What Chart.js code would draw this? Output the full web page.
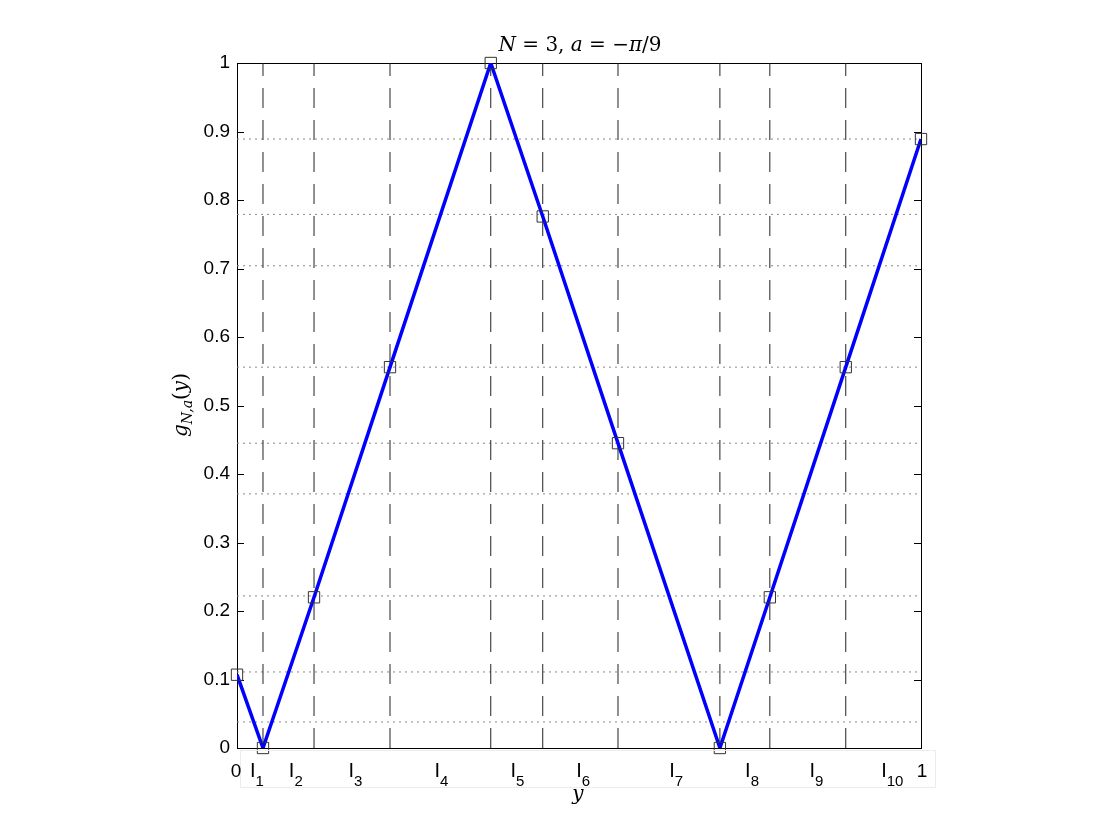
<!DOCTYPE html>
<html>
<head>
<meta charset="utf-8">
<script src="https://cdn.jsdelivr.net/npm/chart.js@4.4.1/dist/chart.umd.min.js"></script>
<style>
  body { margin: 0; background: #fff; }
  canvas { display: block; }
</style>
</head>
<body>
<canvas id="chart" width="1120" height="840"></canvas>
<script>
// values
const yPos = [0, 0.038, 0.1126, 0.2237, 0.371, 0.447, 0.557, 0.706, 0.779, 0.890, 1];
const gVals = [0.107, 0, 0.22, 0.556, 1, 0.776, 0.445, 0, 0.22, 0.556, 0.889];
const borders = [0.038, 0.1126, 0.2237, 0.371, 0.447, 0.557, 0.706, 0.779, 0.890];
const levels = [0.038, 0.111, 0.222, 0.371, 0.445, 0.556, 0.704, 0.779, 0.889];
const intervalNames = ['1', '2', '3', '4', '5', '6', '7', '8', '9', '10'];
// where the interval labels sit on the x axis
const intervalTicks = [0.029, 0.086, 0.173, 0.299, 0.410, 0.506, 0.642, 0.753, 0.847, 0.958];
const yTicks = [0, 0.1, 0.2, 0.3, 0.4, 0.5, 0.6, 0.7, 0.8, 0.9, 1];

const sansFont = '"Liberation Sans", Arial, sans-serif';
const serifFont = '"DejaVu Serif", "Liberation Serif", serif';

const dashedSets = borders.map(b => ({
    data: [{x: b, y: 0}, {x: b, y: 1}],
    showLine: true,
    borderColor: '#222',
    borderWidth: 1,
    borderDash: [20, 12],
    pointRadius: 0,
    order: 2
}));
const dottedSets = levels.map(l => ({
    data: [{x: 0, y: l}, {x: 1, y: l}],
    showLine: true,
    borderColor: '#888',
    borderWidth: 1,
    borderDash: [2, 4],
    pointRadius: 0,
    order: 3
}));

const points = yPos.map((x, i) => ({x: x, y: gVals[i]}));

// draw text pieces one after another (italic / normal / subscript)
function drawRuns(ctx, runs, x, y, align) {
    let total = 0;
    runs.forEach(r => { ctx.font = r.font; total += ctx.measureText(r.t).width; });
    let cx = align === 'center' ? x - total / 2 : x;
    ctx.textAlign = 'left';
    ctx.textBaseline = 'alphabetic';
    runs.forEach(r => {
        ctx.font = r.font;
        ctx.fillText(r.t, cx, y + (r.dy || 0));
        cx += ctx.measureText(r.t).width;
    });
}

const decorPlugin = {
    id: 'decor',
    beforeDatasetsDraw(chart) {
        const ctx = chart.ctx;
        const a = chart.chartArea;
        const ys = chart.scales.y;
        ctx.save();
        ctx.strokeStyle = '#000';
        ctx.lineWidth = 1;
        ctx.strokeRect(a.left + 0.5, a.top + 0.5, a.right - a.left, a.bottom - a.top);
        ctx.beginPath();
        yTicks.forEach(t => {
            const py = Math.round(ys.getPixelForValue(t)) + 0.5;
            ctx.moveTo(a.left, py); ctx.lineTo(a.left + 7, py);
            ctx.moveTo(a.right, py); ctx.lineTo(a.right - 7, py);
        });
        ctx.stroke();
        ctx.restore();
    },
    afterDraw(chart) {
        const ctx = chart.ctx;
        const a = chart.chartArea;
        const xs = chart.scales.x;
        ctx.save();
        ctx.fillStyle = '#000';

        // faint box around the interval labels
        ctx.strokeStyle = '#ececec';
        ctx.strokeRect(240.5, a.bottom + 2.5, 695, 37);

        // interval labels
        for (let i = 0; i < intervalNames.length; i++) {
            drawRuns(ctx, [
                {t: 'I', font: '20px ' + sansFont},
                {t: intervalNames[i], font: '15px ' + sansFont, dy: 9}
            ], xs.getPixelForValue(intervalTicks[i]), a.bottom + 29, 'center');
        }
        ctx.font = '19px ' + sansFont;
        ctx.textAlign = 'center';
        ctx.fillText('0', xs.getPixelForValue(0) - 1, a.bottom + 29);
        ctx.fillText('1', xs.getPixelForValue(1) + 1, a.bottom + 29);

        // title
        const it = 'italic 20px ' + serifFont;
        const up = '20px ' + serifFont;
        drawRuns(ctx, [
            {t: 'N', font: it}, {t: ' = 3, ', font: up},
            {t: 'a', font: it}, {t: ' = \u2212', font: up},
            {t: '\u03c0', font: it}, {t: '/9', font: up}
        ], 580, 51, 'center');

        // x label
        drawRuns(ctx, [{t: 'y', font: it}], 578, a.bottom + 52, 'center');

        // y label
        ctx.translate(187, 405);
        ctx.rotate(-Math.PI / 2);
        drawRuns(ctx, [
            {t: 'g', font: it},
            {t: 'N,a', font: 'italic 14px ' + serifFont, dy: 5},
            {t: '(', font: up}, {t: 'y', font: it}, {t: ')', font: up}
        ], 0, 0, 'center');
        ctx.restore();
    }
};

const chart = new Chart(document.querySelector('#chart').getContext('2d'), {
    type: 'scatter',
    data: {
        datasets: [
            {
                data: points,
                showLine: false,
                pointStyle: 'rect',
                pointRadius: 8,
                pointBorderColor: '#333',
                pointBorderWidth: 1,
                pointBackgroundColor: 'rgba(0,0,0,0)',
                clip: false,
                order: 0
            },
            {
                data: points,
                showLine: true,
                borderColor: '#0000ff',
                borderWidth: 3.5,
                pointRadius: 0,
                tension: 0,
                order: 1
            }
        ].concat(dashedSets, dottedSets)
    },
    options: {
        responsive: false,
        animation: false,
        devicePixelRatio: 1,
        layout: { padding: { left: 0, right: 199, top: 63, bottom: 92 } },
        plugins: { legend: { display: false }, tooltip: { enabled: false } },
        scales: {
            x: {
                type: 'linear', min: 0, max: 1,
                display: false
            },
            y: {
                min: 0, max: 1,
                grid: { display: false, drawTicks: false },
                border: { display: false },
                ticks: {
                    stepSize: 0.1,
                    padding: 7,
                    color: '#000',
                    font: { family: sansFont, size: 19 },
                    callback: v => Math.round(v * 10) / 10
                },
                afterFit: s => { s.width = 237; }
            }
        }
    },
    plugins: [decorPlugin]
});
</script>
</body>
</html>
